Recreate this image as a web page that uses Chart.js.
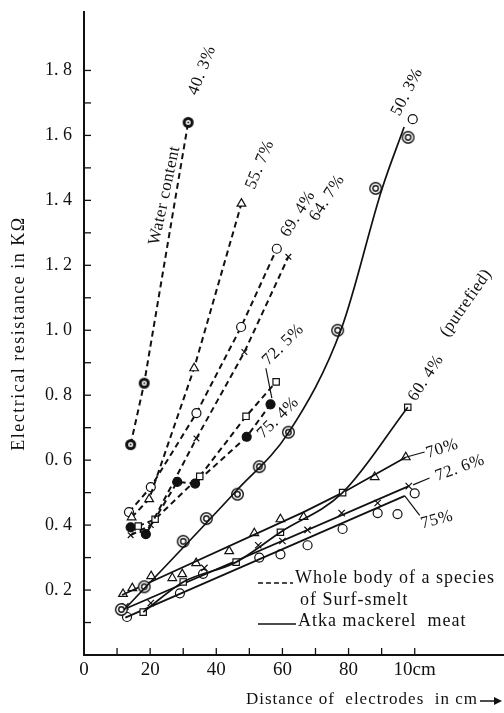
<!DOCTYPE html>
<html>
<head>
<meta charset="utf-8">
<script src="https://cdn.jsdelivr.net/npm/chart.js@4.4.1/dist/chart.umd.min.js"></script>
<style>
  html, body { margin: 0; padding: 0; background: #fff; }
  canvas { display: block; }
</style>
</head>
<body>
<canvas id="resistanceChart" width="504" height="713"></canvas>
<script>
// Whole body of surf-smelt (dashed), water content per curve
const smelt403X = [14.1, 18.2, 31.5];
const smelt403Y = [0.648, 0.837, 1.64];
const smelt557X = [14.4, 19.7, 33.3, 47.6];
const smelt557Y = [0.424, 0.48, 0.883, 1.39];
const smelt694X = [13.6, 20.2, 34.0, 47.5, 58.3];
const smelt694Y = [0.44, 0.517, 0.745, 1.01, 1.251];
const smelt647X = [14.1, 20.2, 34.0, 48.5, 61.8];
const smelt647Y = [0.369, 0.40, 0.667, 0.933, 1.226];
const smelt725X = [16.4, 21.5, 35.0, 49.0, 58.1];
const smelt725Y = [0.397, 0.418, 0.55, 0.735, 0.841];
const smelt754X = [14.1, 18.7, 28.2, 33.6, 49.2, 56.4];
const smelt754Y = [0.393, 0.372, 0.533, 0.528, 0.672, 0.772];

// Atka mackerel meat (solid)
const mack503X = [11.3, 18.2, 30.0, 37.0, 46.4, 53.0, 61.8, 76.7, 88.2, 98.0];
const mack503Y = [0.14, 0.21, 0.35, 0.42, 0.495, 0.58, 0.686, 1.0, 1.437, 1.594];
const mack503LineX = [12.1, 46.0, 62.0, 77.9, 90.1, 96.8];
const mack503LineY = [0.139, 0.505, 0.687, 1.007, 1.435, 1.626];
const mack503ExtraX = [99.4];
const mack503ExtraY = [1.65];
const mack604X = [17.9, 30.0, 46.0, 59.4, 78.2, 97.9];
const mack604Y = [0.132, 0.225, 0.286, 0.378, 0.5, 0.763];
const mack70X = [11.8, 14.6, 20.3, 26.7, 29.7, 33.9, 43.9, 51.5, 59.4, 66.4, 87.9, 97.3];
const mack70Y = [0.188, 0.206, 0.243, 0.237, 0.249, 0.283, 0.32, 0.375, 0.418, 0.425, 0.548, 0.609];
const mack70LineX = [11.5, 66.4, 78.2, 97.3];
const mack70LineY = [0.185, 0.44, 0.50, 0.609];
const mack726X = [12.5, 20.2, 36.4, 52.7, 60.0, 67.6, 77.9, 88.8, 98.2];
const mack726Y = [0.15, 0.16, 0.268, 0.338, 0.351, 0.385, 0.437, 0.468, 0.52];
const mack726LineX = [12.0, 98.2];
const mack726LineY = [0.14, 0.52];
const mack75X = [13.0, 29.0, 36.0, 53.0, 59.4, 67.6, 78.2, 88.8, 100.0];
const mack75Y = [0.117, 0.19, 0.25, 0.30, 0.31, 0.338, 0.388, 0.437, 0.498];
const mack75ExtraX = [94.8];
const mack75ExtraY = [0.434];
const mack75LineX = [12.5, 97.0];
const mack75LineY = [0.115, 0.49];

// axis ticks
const xTickValues = [0, 20, 40, 60, 80, 100];
const xTickLabels = ['0', '20', '40', '60', '80', '10cm'];
const yTickValues = [0.2, 0.4, 0.6, 0.8, 1.0, 1.2, 1.4, 1.6, 1.8];
const yTickLabels = ['0. 2', '0. 4', '0. 6', '0. 8', '1. 0', '1. 2', '1. 4', '1. 6', '1. 8'];

// labels written along the curves (data units, angle in degrees)
const curveLabels = [
    { text: '40. 3%', x: 35.7, y: 1.80, angle: -69 },
    { text: '55. 7%', x: 53.2, y: 1.51, angle: -68 },
    { text: 'Water content', x: 24.4, y: 1.415, angle: -78 },
    { text: '69. 4%', x: 64.7, y: 1.358, angle: -58 },
    { text: '64. 7%', x: 73.5, y: 1.407, angle: -57 },
    { text: '50. 3%', x: 97.7, y: 1.734, angle: -63 },
    { text: '72. 5%', x: 60.2, y: 0.955, angle: -45 },
    { text: '75. 4%', x: 58.7, y: 0.73, angle: -45 },
    { text: '60. 4%', x: 103.4, y: 0.853, angle: -57 },
    { text: '(putrefied)', x: 115.5, y: 1.084, angle: -55 },
    { text: '70%', x: 108.3, y: 0.635, angle: -18 },
    { text: '72. 6%', x: 113.7, y: 0.576, angle: -20 },
    { text: '75%', x: 106.7, y: 0.416, angle: -15 }
];
// short leader strokes between curve ends and their labels
const leaders = [
    [55.0, 0.883, 56.8, 0.791],
    [97.3, 0.609, 103.0, 0.625],
    [99.5, 0.524, 104.5, 0.545],
    [97.0, 0.49, 101.5, 0.43]
];

const SERIF = '"Liberation Serif", "DejaVu Serif", serif';

function pts(xs, ys) {
    return xs.map((x, i) => ({ x: x, y: ys[i] }));
}

// marker images for the ringed symbols
function ringMarker() {
    const c = document.createElement('canvas');
    c.width = c.height = 15;
    const g = c.getContext('2d');
    g.strokeStyle = '#111';
    g.lineWidth = 1.4;
    g.fillStyle = '#fff';
    g.beginPath(); g.arc(7.5, 7.5, 5.8, 0, Math.PI * 2); g.fill(); g.stroke();
    g.beginPath(); g.arc(7.5, 7.5, 2.7, 0, Math.PI * 2); g.stroke();
    return c;
}
function boldMarker() {
    const c = document.createElement('canvas');
    c.width = c.height = 13;
    const g = c.getContext('2d');
    g.fillStyle = '#111';
    g.beginPath(); g.arc(6.5, 6.5, 5.5, 0, Math.PI * 2); g.fill();
    g.fillStyle = '#fff';
    g.beginPath(); g.arc(6.5, 6.5, 2.5, 0, Math.PI * 2); g.fill();
    g.fillStyle = '#111';
    g.beginPath(); g.arc(6.5, 6.5, 1.0, 0, Math.PI * 2); g.fill();
    return c;
}
const ringImg = ringMarker();
const boldImg = boldMarker();

function dashed(xs, ys, style, radius, fill) {
    return {
        data: pts(xs, ys), showLine: true, borderColor: '#111', borderWidth: 2,
        borderDash: [6, 4], pointStyle: style, pointRadius: radius,
        pointBorderColor: '#111', pointBorderWidth: 1.2,
        pointBackgroundColor: fill || '#fff'
    };
}
function solid(xs, ys, curved) {
    return {
        data: pts(xs, ys), showLine: true, borderColor: '#111', borderWidth: 1.7,
        pointRadius: 0, cubicInterpolationMode: curved ? 'monotone' : 'default'
    };
}
function markers(xs, ys, style, radius) {
    return {
        data: pts(xs, ys), showLine: false, pointStyle: style, pointRadius: radius,
        pointBorderColor: '#111', pointBorderWidth: 1.2, pointBackgroundColor: '#fff'
    };
}

const annotationPlugin = {
    id: 'annotations',
    afterDatasetsDraw(chart) {
        const { ctx, chartArea } = chart;
        const xs = chart.scales.x, ys = chart.scales.y;
        ctx.save();
        ctx.strokeStyle = '#111';
        ctx.fillStyle = '#111';

        // tick marks point inwards
        ctx.lineWidth = 1.3;
        ys.ticks.forEach(t => {
            if (t.value < 0.05 || t.value > 1.85) return;
            const py = ys.getPixelForValue(t.value);
            ctx.beginPath(); ctx.moveTo(chartArea.left, py); ctx.lineTo(chartArea.left + 7, py); ctx.stroke();
        });
        xs.ticks.forEach(t => {
            if (t.value < 5 || t.value > 100.5) return;
            const px = xs.getPixelForValue(t.value);
            ctx.beginPath(); ctx.moveTo(px, chartArea.bottom); ctx.lineTo(px, chartArea.bottom - 7); ctx.stroke();
        });

        // leader strokes
        ctx.lineWidth = 1.2;
        leaders.forEach(l => {
            ctx.beginPath();
            ctx.moveTo(xs.getPixelForValue(l[0]), ys.getPixelForValue(l[1]));
            ctx.lineTo(xs.getPixelForValue(l[2]), ys.getPixelForValue(l[3]));
            ctx.stroke();
        });

        // curve labels
        ctx.font = '17px ' + SERIF;
        ctx.letterSpacing = '0.5px';
        ctx.textAlign = 'center';
        ctx.textBaseline = 'middle';
        curveLabels.forEach(l => {
            ctx.save();
            ctx.translate(xs.getPixelForValue(l.x), ys.getPixelForValue(l.y));
            ctx.rotate(l.angle * Math.PI / 180);
            ctx.fillText(l.text, 0, 0);
            ctx.restore();
        });

        // key in the lower right corner
        const kx = chartArea.right - 246;
        ctx.textAlign = 'left';
        ctx.font = '18px ' + SERIF;
        ctx.letterSpacing = '1px';
        ctx.lineWidth = 1.6;
        ctx.setLineDash([5, 3]);
        ctx.beginPath(); ctx.moveTo(kx, 583); ctx.lineTo(kx + 35, 583); ctx.stroke();
        ctx.setLineDash([]);
        ctx.fillText('Whole body of a species', kx + 37, 578);
        ctx.fillText('of Surf-smelt', kx + 42, 600);
        ctx.beginPath(); ctx.moveTo(kx, 624); ctx.lineTo(kx + 38, 624); ctx.stroke();
        ctx.fillText('Atka mackerel  meat', kx + 40, 621);

        // axis titles
        ctx.font = '17px ' + SERIF;
        ctx.letterSpacing = '1px';
        ctx.textAlign = 'right';
        ctx.fillText('Distance of  electrodes  in cm', 478, 700);
        ctx.lineWidth = 1.5;
        ctx.beginPath(); ctx.moveTo(480, 701); ctx.lineTo(496, 701); ctx.stroke();
        ctx.beginPath(); ctx.moveTo(502, 701); ctx.lineTo(494, 697); ctx.lineTo(494, 705); ctx.closePath(); ctx.fill();

        ctx.save();
        ctx.font = '18px ' + SERIF;
        ctx.letterSpacing = '1.5px';
        ctx.textAlign = 'center';
        ctx.translate(19, (chartArea.top + chartArea.bottom) / 2);
        ctx.rotate(-Math.PI / 2);
        ctx.fillText('Electrical resistance in K\u03A9', 0, 0);
        ctx.restore();
        ctx.restore();
    }
};

new Chart(document.getElementById('resistanceChart'), {
    type: 'scatter',
    data: {
        datasets: [
            dashed(smelt403X, smelt403Y, boldImg, 6),
            dashed(smelt557X, smelt557Y, 'triangle', 5),
            dashed(smelt694X, smelt694Y, 'circle', 4.5),
            dashed(smelt647X, smelt647Y, 'crossRot', 4),
            dashed(smelt725X, smelt725Y, 'rect', 4.5),
            dashed(smelt754X, smelt754Y, 'circle', 4.5, '#111'),
            solid(mack503LineX, mack503LineY, true),
            markers(mack503X, mack503Y, ringImg, 6),
            markers(mack503ExtraX, mack503ExtraY, 'circle', 4.5),
            solid(mack604X, mack604Y, true),
            markers(mack604X, mack604Y, 'rect', 4.5),
            solid(mack70LineX, mack70LineY, false),
            markers(mack70X, mack70Y, 'triangle', 5),
            solid(mack726LineX, mack726LineY, false),
            markers(mack726X, mack726Y, 'crossRot', 4.5),
            solid(mack75LineX, mack75LineY, false),
            markers(mack75X, mack75Y, 'circle', 4.5),
            markers(mack75ExtraX, mack75ExtraY, 'circle', 4.5)
        ]
    },
    options: {
        responsive: false,
        animation: false,
        devicePixelRatio: 1,
        layout: { autoPadding: false, padding: { top: 12, right: 0, left: 0, bottom: 0 } },
        plugins: { legend: { display: false }, tooltip: { enabled: false } },
        scales: {
            x: {
                type: 'linear', min: 0, max: 127,
                afterFit: (scale) => {
                    scale.height = 58;
                    scale.paddingLeft = 0;
                    scale.paddingRight = 0;
                },
                grid: { display: false, drawTicks: false },
                border: { display: true, color: '#111', width: 2 },
                ticks: {
                    stepSize: 10, autoSkip: false, maxRotation: 0, padding: 4,
                    color: '#111', font: { family: SERIF, size: 19 },
                    callback: (v) => {
                        const i = xTickValues.findIndex(t => Math.abs(t - v) < 1e-6);
                        return i >= 0 ? xTickLabels[i] : '';
                    }
                }
            },
            y: {
                type: 'linear', min: 0, max: 1.98,
                afterFit: (scale) => {
                    scale.width = 84;
                    scale.paddingTop = 0;
                    scale.paddingBottom = 0;
                },
                grid: { display: false, drawTicks: false },
                border: { display: true, color: '#111', width: 2 },
                ticks: {
                    stepSize: 0.1, autoSkip: false, padding: 12,
                    color: '#111', font: { family: SERIF, size: 18 },
                    callback: (v) => {
                        const i = yTickValues.findIndex(t => Math.abs(t - v) < 1e-6);
                        return i >= 0 ? yTickLabels[i] : '';
                    }
                }
            }
        }
    },
    plugins: [annotationPlugin]
});
</script>
</body>
</html>
